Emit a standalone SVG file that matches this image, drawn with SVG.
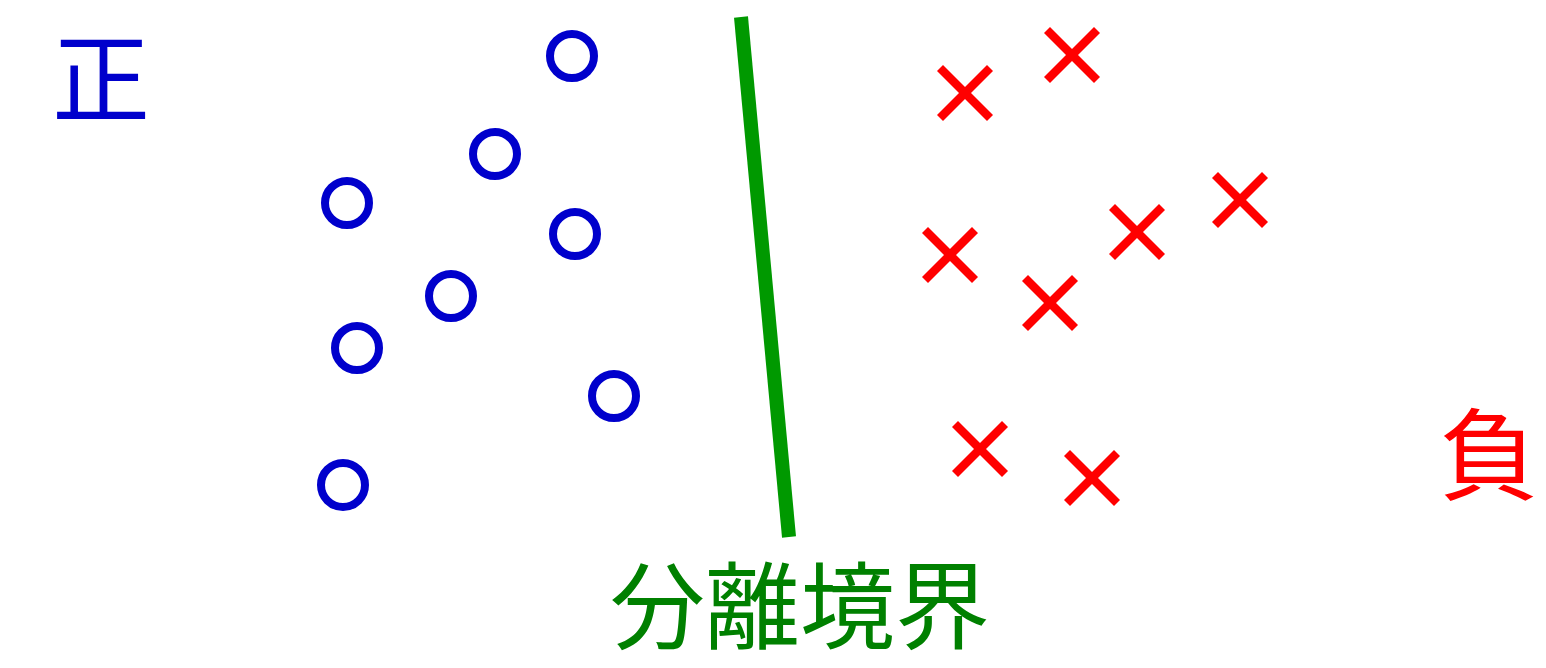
<svg xmlns="http://www.w3.org/2000/svg" width="1546" height="668" viewBox="0 0 1546 668">
<defs>
<style>
.pos{fill:none;stroke:#0000CC;stroke-width:8}
.neg{stroke:#FF0000;stroke-width:8.5;stroke-linecap:square}
.lbl{font-family:"Noto Sans CJK JP","Noto Sans CJK SC",sans-serif}
</style>
<g id="cross"><line class="neg" x1="-22" y1="-22" x2="22" y2="22"/><line class="neg" x1="-22" y1="22" x2="22" y2="-22"/></g>
</defs>
<rect width="1546" height="668" fill="#FFFFFF"/>
<g id="connectors">
<line id="boundary" x1="741" y1="17" x2="789" y2="537" stroke="#009900" stroke-width="14"/>
</g>
<g id="positives">
<circle class="pos" cx="572" cy="56" r="22"/>
<circle class="pos" cx="495" cy="154" r="22"/>
<circle class="pos" cx="347" cy="203" r="22"/>
<circle class="pos" cx="575" cy="234" r="22"/>
<circle class="pos" cx="451" cy="296" r="22"/>
<circle class="pos" cx="357" cy="348" r="22"/>
<circle class="pos" cx="614" cy="396" r="22"/>
<circle class="pos" cx="343" cy="485" r="22"/>
</g>
<g id="negatives">
<use href="#cross" x="965" y="93"/>
<use href="#cross" x="1072" y="55"/>
<use href="#cross" x="1240" y="200"/>
<use href="#cross" x="1137" y="232"/>
<use href="#cross" x="950" y="255"/>
<use href="#cross" x="1050" y="303"/>
<use href="#cross" x="980" y="449"/>
<use href="#cross" x="1092" y="478"/>
</g>
<g id="label-pos"><text class="lbl" x="52" y="115" font-size="98" fill="#0000CC">正</text></g>
<g id="label-neg"><text class="lbl" x="1439" y="492" font-size="100" fill="#FF0000">負</text></g>
<g id="label-boundary"><text class="lbl" x="610" y="642" font-size="95" fill="#008000">分離境界</text></g>
</svg>
